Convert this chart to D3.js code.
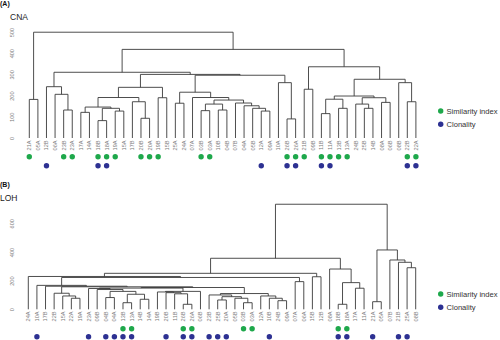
<!DOCTYPE html>
<html><head><meta charset="utf-8">
<script src="https://cdn.jsdelivr.net/npm/d3@7"></script>
<style>body{margin:0;background:#fff;} svg{display:block;font-family:Arial,"Liberation Sans",sans-serif;}</style>
</head><body><svg id="c" width="500" height="340"></svg>
<script>
// ---------- DATA ----------
const cnaLeaves = ["21A","05A","12B","06A","23B","23A","17A","14A","18B","18A","19A","15A","17B","20B","20A","19B","15B","25A","24A","07A","03B","03A","10B","04B","07B","04A","05B","12A","09A","10A","26B","26A","21B","09B","11B","11A","13B","13A","24B","25B","14B","08A","06B","08B","22B","22A"];
const lohLeaves = ["24A","10A","17B","22B","15A","22A","19A","23A","09B","04B","04A","13B","13A","14B","14A","19B","20B","11B","26B","26A","06B","23B","25B","20A","05B","03B","03A","12A","10B","24B","09A","07A","06A","15B","12B","08A","18B","18A","17A","11A","21A","05A","07B","21B","25A","08B"];

// merges: [left, right, height]
const cnaTree = [
  ["21A","05A",182],
  [
    [
      ["12B",["06A",["23B","23A",132],206],242],
      [
        [
          [
            [["17A","14A",121],[["18B","18A",82],["19A","15A",127],140],146],
            ["17B",["20B","20A",93],171],
            191],
          ["19B","15B",190],
          239],
        [
          [["25A","24A",164],
           ["07A",[[["03B","03A",129],["10B","04B",132],160],["07B",["04A",["05B",["12A","09A",127],140],152],165],179],191],
           216],
          ["10A",["26B","26A",90],261],
          296],
        300],
      310],
    [
      ["21B","09B",230],
      [
        [[["11B","11A",115],["13B","13A",140],183],[["24B",["25B","14B",140],160],["08A","06B",168],190],198],
        ["08B",["22B","22A",171],261],
        277],
      336],
    418],
  499];

const lohTree = [
  [
    [
      ["24A",
        [
          ["10A",["17B",[["22B",["15A",["22A","19A",77],93],112],
              [
                [
                  ["23A",["09B",[["04B","04A",82],[["13B","13A",46],["14B","14A",70],105],125],138],145],
                  [["19B",["20B",["11B",["26B","26A",35],108],116],121],"06B",125],
                  148],
                [["23B",[["25B","20A",65],["05B",["03B","03A",46],77],88],100],["12A",["10B",["24B","09A",60],77],93],110],
                152],
              157],161],167],
          ["07A","06A",193],
          222],
        229],
      ["15B","12B",227],
      251],
    ["08A",[["18B","18A",35],["17A","11A",147],186],281],
    356],
  [["21A","05A",53],["07B",["21B",["25A","08B",290],328],344],414],
  733];

const cnaTicks = [0,100,200,300,400,500];
const lohTicks = [0,200,400,600];

const cnaSimilarity = ["21A","23B","23A","18B","18A","19A","20B","20A","19B","03B","03A","26B","26A","21B","11B","11A","13B","13A","22B","22A"];
const cnaClonality  = ["12B","18B","18A","12A","26B","26A","11B","11A","22B","22A"];
const lohSimilarity = ["13B","13A","26B","26A","03B","03A","18B","18A"];
const lohClonality  = ["10A","23A","04B","04A","13B","13A","20B","26B","26A","23B","25B","20A","10B","18B","18A","21A","21B","25A"];

const legendItems = ["Similarity index","Clonality"];

// ---------- DRAW ----------
const svg = d3.select("#c");
const GREEN = "#1ea84b", BLUE = "#2d3192", LINE = "#3a3a3a", GREY = "#7a7a7a";

function panel(opts){
  const {leaves, tree, ticks, ymax, yRange, xRange, labTop, dotG, dotB, sim, clo, legY} = opts;
  const x = d3.scalePoint().domain(leaves).range(xRange);
  const y = d3.scaleLinear().domain([0, ymax]).range(yRange);
  const g = svg.append("g");
  const segs = [];
  function walk(n){
    if (typeof n === "string") return {x: x(n), h: 0};
    const l = walk(n[0]), r = walk(n[1]), h = n[2];
    segs.push([[l.x, y(l.h)], [l.x, y(h)], [r.x, y(h)], [r.x, y(r.h)]]);
    return {x: (l.x + r.x) / 2, h};
  }
  walk(tree);
  const line = d3.line();
  g.selectAll("path.br").data(segs).join("path").attr("class","br")
    .attr("d", line).attr("fill","none").attr("stroke",LINE).attr("stroke-width",0.9);

  // axis
  const ax = g.append("g").attr("transform","translate(14,0)")
    .call(d3.axisLeft(y).tickValues(ticks).tickSize(0).tickFormat(d3.format("d")));
  ax.select(".domain").remove();
  ax.selectAll("text").attr("x",0).attr("y",0).attr("dy",0)
    .attr("transform","rotate(-90)").attr("text-anchor","middle")
    .attr("fill",GREY).style("font-size","5.6px").style("font-family","Arial, sans-serif");

  // leaf labels
  g.selectAll("text.leaf").data(leaves).join("text").attr("class","leaf")
    .attr("transform", d => `translate(${x(d)},${labTop}) rotate(-90)`)
    .attr("text-anchor","end").attr("dy","0.35em")
    .attr("fill",GREY).style("font-size","5.6px").text(d => d);

  g.selectAll("circle.sim").data(sim).join("circle").attr("class","sim")
    .attr("cx", d => x(d)).attr("cy", dotG).attr("r", 2.7).attr("fill", GREEN);
  g.selectAll("circle.clo").data(clo).join("circle").attr("class","clo")
    .attr("cx", d => x(d)).attr("cy", dotB).attr("r", 2.7).attr("fill", BLUE);

  // legend
  const lg = g.append("g");
  legendItems.forEach((t,i) => {
    const yy = legY + i*13.3;
    lg.append("circle").attr("cx",440.7).attr("cy",yy).attr("r",2.7).attr("fill", i ? BLUE : GREEN);
    lg.append("text").attr("x",446.5).attr("y",yy).attr("dy","0.35em")
      .attr("fill","#333").style("font-size","7.6px").text(t);
  });
}

panel({leaves: cnaLeaves, tree: cnaTree, ticks: cnaTicks, ymax: 500, yRange: [138, 32],
  xRange: [29.3, 415.9], labTop: 140.5, dotG: 156.7, dotB: 165.7,
  sim: cnaSimilarity, clo: cnaClonality, legY: 111});
panel({leaves: lohLeaves, tree: lohTree, ticks: lohTicks, ymax: 600, yRange: [309.3, 223.3],
  xRange: [28.3, 415.7], labTop: 311.5, dotG: 328.7, dotB: 336.7,
  sim: lohSimilarity, clo: lohClonality, legY: 294});

// titles
svg.append("text").attr("x",0).attr("y",6).style("font-size","7px").style("font-weight","bold").attr("fill","#111").text("(A)");
svg.append("text").attr("x",10).attr("y",19.5).style("font-size","8.5px").attr("fill","#222").text("CNA");
svg.append("text").attr("x",0).attr("y",186.5).style("font-size","7px").style("font-weight","bold").attr("fill","#111").text("(B)");
svg.append("text").attr("x",0).attr("y",201).style("font-size","8.5px").attr("fill","#222").text("LOH");
</script></body></html>
